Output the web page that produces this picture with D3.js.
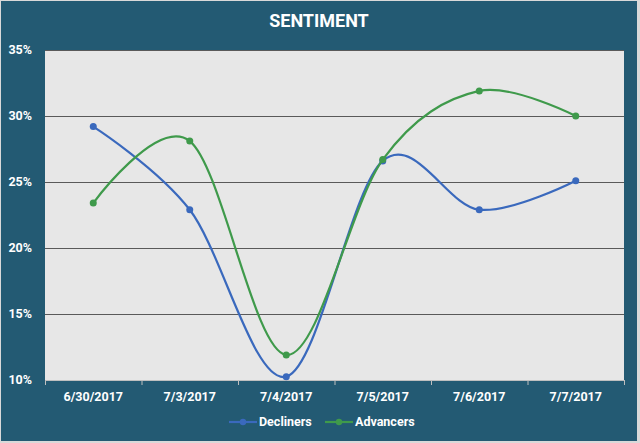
<!DOCTYPE html>
<html>
<head>
<meta charset="utf-8">
<script src="https://cdn.jsdelivr.net/npm/d3@7"></script>
<style>
  body { margin: 0; background: #d9d9d9; }
  text { font-family: Roboto, "Noto Sans", sans-serif; font-weight: bold; fill: #fff; }
</style>
</head>
<body>
<svg width="640" height="443"></svg>
<script>
const dates = ['6/30/2017', '7/3/2017', '7/4/2017', '7/5/2017', '7/6/2017', '7/7/2017'];
const decliners = [29.2, 22.9, 10.25, 26.6, 22.9, 25.1];
const advancers = [23.4, 28.1, 11.9, 26.7, 31.9, 30.0];
const yTicks = [10, 15, 20, 25, 30, 35];

const svg = d3.select('svg');
const width = +svg.attr('width');
const height = +svg.attr('height');

// dark panel
svg.append('rect')
   .attr('x', 1).attr('y', 1)
   .attr('width', width - 4).attr('height', height - 3)
   .attr('fill', '#235a73');

svg.append('text')
   .attr('x', 319).attr('y', 27)
   .attr('text-anchor', 'middle')
   .style('font-size', '18px')
   .text('SENTIMENT');

const margin = { top: 50, right: 16, left: 45, bottom: 63 };
const innerWidth = width - margin.left - margin.right;
const innerHeight = height - margin.top - margin.bottom;

const xScale = d3.scaleBand()
                 .domain(dates)
                 .range([0, innerWidth]);

const yScale = d3.scaleLinear()
                 .domain([10, 35])
                 .range([innerHeight, 0]);

const g = svg.append('g')
             .attr('transform', `translate(${margin.left}, ${margin.top})`);

g.append('rect')
 .attr('width', innerWidth).attr('height', innerHeight)
 .attr('fill', '#e7e7e7');

// gridlines
g.selectAll('.grid').data(yTicks.slice(1))
  .enter().append('line')
    .attr('x1', 0).attr('x2', innerWidth)
    .attr('y1', d => yScale(d) + 0.5).attr('y2', d => yScale(d) + 0.5)
    .attr('stroke', '#5a5a5a');

// y labels
g.selectAll('.ylab').data(yTicks)
  .enter().append('text')
    .attr('x', -13)
    .attr('y', d => yScale(d))
    .attr('dy', '0.35em')
    .attr('text-anchor', 'end')
    .style('font-size', '12.5px')
    .text(d => d + '%');

// x axis
const xAxis = d3.axisBottom(xScale).tickSize(0).tickPadding(10);
const xg = g.append('g').attr('transform', `translate(0, ${innerHeight})`).call(xAxis);
xg.select('.domain').attr('stroke', '#bfbfbf');
xg.selectAll('text').style('font-size', '12.5px').attr('fill', '#fff').attr('dy', '0.9em');
xg.selectAll('.bound').data(dates.concat(['end']))
  .enter().append('line')
    .attr('x1', (d, i) => i * xScale.bandwidth() + 0.5)
    .attr('x2', (d, i) => i * xScale.bandwidth() + 0.5)
    .attr('y1', 0).attr('y2', 5)
    .attr('stroke', '#bfbfbf');

const series = [
  { name: 'Decliners', values: decliners, color: '#3a69bd' },
  { name: 'Advancers', values: advancers, color: '#3f9a4b' }
];

const xPos = (d, i) => xScale(dates[i]) + xScale.bandwidth() / 2;
const line = d3.line()
               .x(xPos)
               .y(d => yScale(d))
               .curve(d3.curveCardinal.tension(0));

series.forEach(s => {
  g.append('path')
   .attr('d', line(s.values))
   .attr('fill', 'none')
   .attr('stroke', s.color)
   .attr('stroke-width', 2.2);
  g.selectAll(null).data(s.values)
   .enter().append('circle')
     .attr('cx', xPos)
     .attr('cy', d => yScale(d))
     .attr('r', 3.5)
     .attr('fill', s.color);
});

// legend
const legend = svg.append('g').attr('transform', 'translate(229, 422)');
const legendX = [0, 96];
series.forEach((s, i) => {
  const lg = legend.append('g').attr('transform', `translate(${legendX[i]}, 0)`);
  lg.append('line').attr('x1', 0).attr('x2', 28).attr('stroke', s.color).attr('stroke-width', 2.2);
  lg.append('circle').attr('cx', 14).attr('r', 3.2).attr('fill', s.color);
  lg.append('text').attr('x', 30).attr('dy', '0.35em')
    .style('font-size', '12.5px').text(s.name);
});
</script>
</body>
</html>
